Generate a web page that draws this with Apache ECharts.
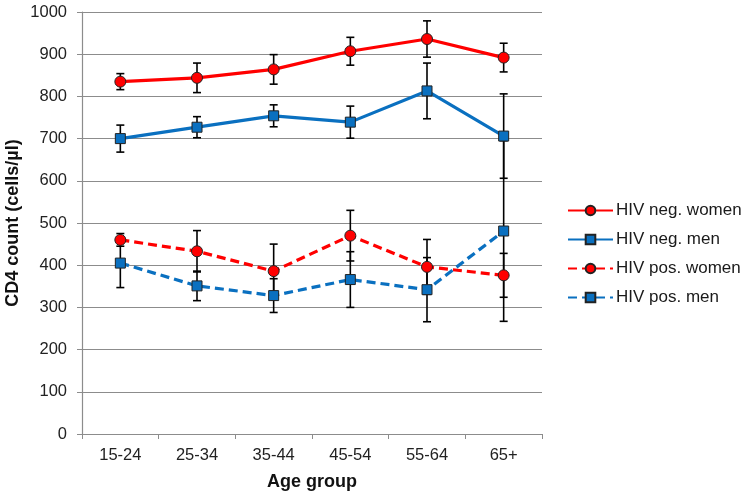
<!DOCTYPE html>
<html>
<head>
<meta charset="utf-8">
<script src="https://cdn.jsdelivr.net/npm/echarts@6/dist/echarts.min.js"></script>
<style>
html, body { margin: 0; padding: 0; background: #fff; }
#chart { width: 747px; height: 497px; }
</style>
</head>
<body>
<div id="chart"></div>
<script>
// categories and values
const ageGroups = ['15-24', '25-34', '35-44', '45-54', '55-64', '65+']
const yTicks = [0, 100, 200, 300, 400, 500, 600, 700, 800, 900, 1000]

const negWomen = [835, 844, 864, 907, 936, 892]
const negWomenErr = [19, 35, 35, 33, 43, 34]
const negMen = [700, 727, 754, 739, 813, 706]
const negMenErr = [32, 25, 26, 38, 66, 100]
const posWomen = [460, 433, 386, 470, 396, 376]
const posWomenErr = [15, 49, 64, 60, 65, 52]
const posMen = [405, 351, 328, 366, 342, 481]
const posMenErr = [58, 35, 40, 66, 76, 214]

const RED = '#ff0000'
const BLUE = '#0a70c0'
const FONT = 'Liberation Sans, Arial, sans-serif'

// error bar: vertical line with caps, through the axis scales
function errorSeries(values, errs) {
    return {
        type: 'custom',
        z: 1,
        silent: true,
        data: values.map((v, i) => [i, v - errs[i], v + errs[i]]),
        renderItem: function (params, api) {
            let lo = api.coord([api.value(0), api.value(1)])
            let hi = api.coord([api.value(0), api.value(2)])
            let w = 4
            let style = { stroke: '#000', lineWidth: 1.6 }
            return {
                type: 'group',
                children: [
                    { type: 'line', shape: { x1: hi[0], y1: hi[1], x2: lo[0], y2: lo[1] }, style: style },
                    { type: 'line', shape: { x1: hi[0] - w, y1: hi[1], x2: hi[0] + w, y2: hi[1] }, style: style },
                    { type: 'line', shape: { x1: lo[0] - w, y1: lo[1], x2: lo[0] + w, y2: lo[1] }, style: style }
                ]
            }
        }
    }
}

function lineSeries(name, values, color, symbol, dashed) {
    return {
        name: name,
        type: 'line',
        z: 3,
        data: values,
        symbol: symbol,
        symbolSize: symbol === 'circle' ? 11 : 10,
        lineStyle: { color: color, width: 3.2, type: dashed ? [9, 5] : 'solid' },
        itemStyle: { color: color, borderColor: '#222', borderWidth: 1 },
        emphasis: { disabled: true }
    }
}

let myChart = echarts.init(document.getElementById('chart'))
let option = {
    animation: false,
    textStyle: { fontFamily: FONT },
    grid: { left: 82, right: 205, top: 12, bottom: 63, outerBoundsMode: 'none' },
    legend: {
        data: ['HIV neg. women', 'HIV neg. men', 'HIV pos. women', 'HIV pos. men'],
        orient: 'vertical',
        left: 567,
        top: 202,
        padding: 0,
        itemWidth: 45,
        itemHeight: 12,
        itemGap: 12,
        selectedMode: false,
        textStyle: { fontSize: 17, color: '#1a1a1a', fontFamily: FONT, lineHeight: 17, padding: [0, 0, 0, -2] }
    },
    xAxis: {
        type: 'category',
        data: ageGroups,
        boundaryGap: true,
        name: 'Age group',
        nameLocation: 'middle',
        nameGap: 39,
        nameMoveOverlap: false,
        nameTextStyle: { fontSize: 18, fontWeight: 'bold', color: '#111', fontFamily: FONT },
        axisLine: { lineStyle: { color: '#8c8c8c', width: 1.2 } },
        axisTick: { show: true, interval: 0, length: 5, lineStyle: { color: '#8c8c8c' } },
        axisLabel: { fontSize: 16.5, color: '#222', margin: 13, fontFamily: FONT },
        splitLine: { show: false }
    },
    yAxis: {
        type: 'value',
        min: yTicks[0],
        max: yTicks[yTicks.length - 1],
        interval: 100,
        name: 'CD4 count (cells/µl)',
        nameLocation: 'middle',
        nameRotate: 90,
        nameGap: 60,
        nameMoveOverlap: false,
        nameTextStyle: { fontSize: 18, fontWeight: 'bold', color: '#111', fontFamily: FONT },
        axisLine: { show: true, lineStyle: { color: '#8c8c8c', width: 1.2 } },
        axisTick: { show: true, length: 5, lineStyle: { color: '#8c8c8c' } },
        axisLabel: { fontSize: 16.5, color: '#222', margin: 15, fontFamily: FONT, formatter: (v) => String(v) },
        splitLine: { show: true, lineStyle: { color: '#8c8c8c', width: 1.2 } }
    },
    series: [
        errorSeries(negWomen, negWomenErr),
        errorSeries(negMen, negMenErr),
        errorSeries(posWomen, posWomenErr),
        errorSeries(posMen, posMenErr),
        lineSeries('HIV neg. women', negWomen, RED, 'circle', false),
        lineSeries('HIV neg. men', negMen, BLUE, 'rect', false),
        lineSeries('HIV pos. women', posWomen, RED, 'circle', true),
        lineSeries('HIV pos. men', posMen, BLUE, 'rect', true)
    ]
}
myChart.setOption(option)
</script>
</body>
</html>
